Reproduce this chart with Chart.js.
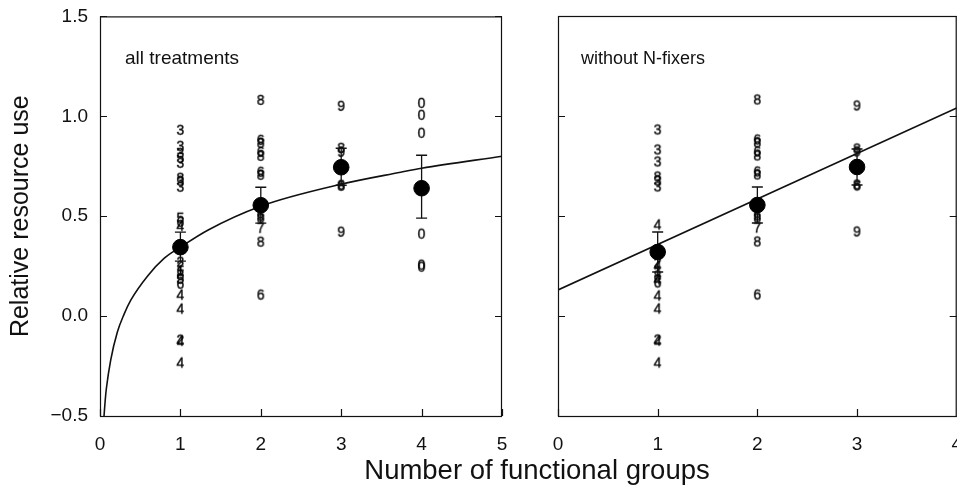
<!DOCTYPE html>
<html>
<head>
<meta charset="utf-8">
<script src="https://cdn.jsdelivr.net/npm/chart.js@4/dist/chart.umd.min.js"></script>
<style>
  body { margin: 0; background: #fff; width: 957px; height: 496px; overflow: hidden; position: relative;
         font-family: "Liberation Sans", Arial, sans-serif; color: #111; }
  #left { position: absolute; left: 0; top: -7px; }
  #right { position: absolute; left: 520px; top: 0; }
  .panel-label { position: absolute; line-height: 20px; }
  #xtitle { position: absolute; left: 537px; top: 455px; transform: translateX(-50%); font-size: 27.5px; line-height: 30px; white-space: nowrap; }
</style>
</head>
<body>
<canvas id="left" width="530" height="503"></canvas>
<canvas id="right" width="459" height="496"></canvas>
<div class="panel-label" style="left:125px; top:48px; font-size:19px;">all treatments</div>
<div class="panel-label" style="left:581px; top:48px; font-size:18px;">without N-fixers</div>
<div id="xtitle">Number of functional groups</div>
<script>
// all treatments: every plot, labelled by its composition digit
const allX = [1,1,1,1,1,1,1,1,1,1,1,1,1,1,1,1,1,1,1,1,1,1,
              2,2,2,2,2,2,2,2,2,2,2,2,
              3,3,3,3,3,3,
              4,4,4,4,4,4];
const allY = [0.93,0.85,0.815,0.79,0.765,0.69,0.675,0.645,0.49,0.47,0.45,0.27,0.25,0.225,0.205,0.185,0.16,0.105,0.035,-0.12,-0.125,-0.235,
              1.08,0.88,0.865,0.82,0.80,0.72,0.705,0.50,0.49,0.44,0.37,0.105,
              1.05,0.84,0.82,0.655,0.65,0.42,
              1.065,1.005,0.915,0.41,0.255,0.245];
const allDigit = ['3','3','3','5','3','8','3','3','5','6','4','2','2','1','8','5','6','4','4','2','4','4',
                  '8','6','8','6','8','6','8','6','8','7','8','6',
                  '9','8','9','6','8','9',
                  '0','0','0','0','0','0'];
const allMeanX = [1, 2, 3, 4];
const allMean  = [0.345, 0.555, 0.745, 0.64];
const allUpper = [0.42, 0.645, 0.84, 0.805];
const allLower = [0.275, 0.465, 0.655, 0.49];
// saturating fit through the treatment means
const fitX = [0.05, 0.065, 0.08, 0.133, 0.216, 0.3, 0.383, 0.59, 0.8, 1, 1.34, 2, 3, 3.74, 4, 5];
const fitY = [-0.5, -0.42, -0.36, -0.22, -0.08, 0.01, 0.08, 0.20, 0.29, 0.345, 0.43, 0.55, 0.66, 0.72, 0.74, 0.80];

// without N-fixers
const noFixX = [1,1,1,1,1,1,1,1,1,1,1,1,1,1,1,1,1,1,
                2,2,2,2,2,2,2,2,2,2,2,2,
                3,3,3,3,3,3];
const noFixY = [0.93,0.83,0.77,0.695,0.675,0.645,0.455,0.265,0.25,0.22,0.20,0.18,0.165,0.10,0.035,-0.12,-0.125,-0.235,
                1.08,0.88,0.865,0.82,0.80,0.72,0.705,0.50,0.49,0.44,0.37,0.105,
                1.05,0.835,0.82,0.655,0.65,0.42];
const noFixDigit = ['3','3','3','8','3','3','4','2','4','1','8','4','6','4','4','2','4','4',
                    '8','6','8','6','8','6','8','6','8','7','8','6',
                    '9','8','9','8','6','9'];
const noFixMeanX = [1, 2, 3];
const noFixMean  = [0.32, 0.555, 0.745];
const noFixUpper = [0.42, 0.645, 0.835];
const noFixLower = [0.22, 0.465, 0.655];
const lineX = [0, 4];
const lineY = [0.13, 1.04];

const yTicks = [-0.5, 0, 0.5, 1.0, 1.5];

const ink = '#111';
const digitCache = {};
function digitImage(d) {
  if (!digitCache[d]) {
    const c = document.createElement('canvas');
    c.width = 11; c.height = 15;
    const g = c.getContext('2d');
    g.font = '14px "Liberation Sans", Arial, sans-serif';
    g.textAlign = 'center';
    g.textBaseline = 'middle';
    g.fillStyle = '#000';
    g.strokeStyle = '#000';
    g.lineWidth = 0.35;
    g.fillText(d, 5.5, 8);
    g.strokeText(d, 5.5, 8);
    digitCache[d] = c;
  }
  return digitCache[d];
}

// box around the plot with short inward ticks
const frameTicks = {
  id: 'frameTicks',
  afterDraw(chart) {
    const { ctx, chartArea: a, scales: { x, y } } = chart;
    ctx.save();
    ctx.strokeStyle = ink;
    ctx.lineWidth = 1.2;
    ctx.strokeRect(a.left + 0.5, a.top + 0.5, a.right - a.left - 1, a.bottom - a.top);
    ctx.beginPath();
    x.ticks.forEach(t => {
      const px = Math.round(x.getPixelForValue(t.value)) + 0.5;
      ctx.moveTo(px, a.bottom); ctx.lineTo(px, a.bottom - 7);
    });
    y.ticks.forEach(t => {
      const py = Math.round(y.getPixelForValue(t.value)) + 0.5;
      ctx.moveTo(a.left, py); ctx.lineTo(a.left + 7, py);
      ctx.moveTo(a.right, py); ctx.lineTo(a.right - 7, py);
    });
    ctx.stroke();
    ctx.restore();
  }
};

function errorSets(xs, lo, hi) {
  return xs.map((x, i) => ({
    data: [{ x, y: lo[i] }, { x, y: hi[i] }],
    showLine: true,
    borderColor: ink,
    borderWidth: 1.3,
    pointStyle: 'line',
    pointRadius: 5.5,
    pointBorderWidth: 1.3,
    pointBorderColor: ink,
    order: 1
  }));
}

function panel(id, opts) {
  const tickFont = { family: '"Liberation Sans", Arial, sans-serif', size: 19 };
  return new Chart(document.getElementById(id), {
    type: 'scatter',
    data: {
      datasets: [
        {
          data: opts.meanX.map((x, i) => ({ x, y: opts.mean[i] })),
          pointRadius: 7.8,
          pointBackgroundColor: '#000',
          pointBorderColor: '#000',
          order: 0
        },
        ...errorSets(opts.meanX, opts.lower, opts.upper),
        {
          data: opts.curveX.map((x, i) => ({ x, y: opts.curveY[i] })),
          showLine: true,
          cubicInterpolationMode: 'monotone',
          borderColor: ink,
          borderWidth: 1.6,
          pointRadius: 0,
          order: 2
        },
        {
          data: opts.px.map((x, i) => ({ x, y: opts.py[i] })),
          pointStyle: opts.digits.map(digitImage),
          order: 3
        }
      ]
    },
    options: {
      responsive: false,
      animation: false,
      layout: { padding: opts.padding },
      plugins: { legend: { display: false }, tooltip: { enabled: false } },
      scales: {
        x: {
          type: 'linear', min: 0, max: opts.xMax,
          ticks: { stepSize: 1, font: tickFont, color: ink, padding: 17 },
          grid: { display: false, drawTicks: false },
          border: { display: false },
          afterFit(s) { s.height = 80; }
        },
        y: {
          type: 'linear', min: -0.5, max: 1.5,
          afterBuildTicks(s) { s.ticks = yTicks.map(v => ({ value: v })); },
          ticks: {
            display: opts.yLabels, font: tickFont, color: ink, padding: 12,
            callback: v => (v < 0 ? '\u2212' : '') + Math.abs(v).toFixed(1)
          },
          title: {
            display: opts.yLabels, text: 'Relative resource use', color: ink,
            font: { family: '"Liberation Sans", Arial, sans-serif', size: 25 },
            padding: { top: 6, bottom: 0 }
          },
          grid: { display: false, drawTicks: false },
          border: { display: false },
          afterFit(s) { s.width = opts.yWidth; }
        }
      }
    },
    plugins: [frameTicks]
  });
}

panel('left', {
  px: allX, py: allY, digits: allDigit,
  meanX: allMeanX, mean: allMean, upper: allUpper, lower: allLower,
  curveX: fitX, curveY: fitY,
  xMax: 5, yLabels: true, yWidth: 100,
  padding: { top: 16, right: 28, bottom: 0, left: 0 }
});

panel('right', {
  px: noFixX, py: noFixY, digits: noFixDigit,
  meanX: noFixMeanX, mean: noFixMean, upper: noFixUpper, lower: noFixLower,
  curveX: lineX, curveY: lineY,
  xMax: 4, yLabels: false, yWidth: 38,
  padding: { top: 16, right: 1, bottom: 0, left: 0 }
});
</script>
</body>
</html>
